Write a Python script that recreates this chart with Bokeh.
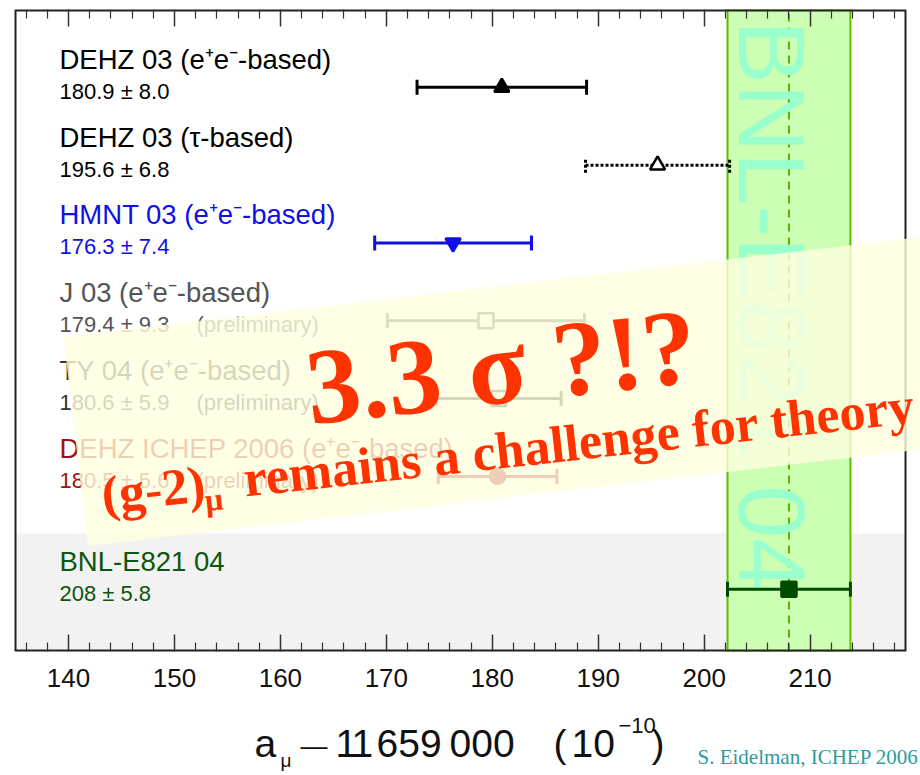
import math
from bokeh.plotting import figure
from bokeh.layouts import column
from bokeh.models import Range1d, LinearAxis, FixedTicker
from bokeh.core.properties import value
from bokeh.embed import file_html
from bokeh.resources import INLINE

# ---------------- data ----------------
names = ["DEHZ 03 (e\u207ae\u207b-based)", "DEHZ 03 (\u03c4-based)", "HMNT 03 (e\u207ae\u207b-based)",
         "J 03 (e\u207ae\u207b-based)", "TY 04 (e\u207ae\u207b-based)",
         "DEHZ ICHEP 2006 (e\u207ae\u207b-based)", "BNL-E821 04"]
values = [180.9, 195.6, 176.3, 179.4, 180.6, 180.5, 208.0]
errors = [8.0, 6.8, 7.4, 9.3, 5.9, 5.6, 5.8]
value_texts = ["180.9 \u00b1 8.0", "195.6 \u00b1 6.8", "176.3 \u00b1 7.4", "179.4 \u00b1 9.3",
               "180.6 \u00b1 5.9", "180.5 \u00b1 5.6", "208 \u00b1 5.8"]
notes = ["", "", "", "(preliminary)", "(preliminary)", "(preliminary)", ""]
markers = ["triangle", "triangle", "inverted_triangle", "square", "square", "circle", "square"]
filled = [True, False, True, False, False, True, True]
dashes = ["solid", "3 2", "solid", "solid", "solid", "solid", "solid"]
colors = ["#000000", "#000000", "#1010e6", "#555555", "#333333", "#a01010", "#0e550e"]
bar_colors = ["#000000", "#000000", "#1010e6", "#555555", "#333333", "#a01010", "#004a00"]
rows = [7.25, 6.25, 5.25, 4.25, 3.25, 2.25, 0.8]
ref_name = "BNL-E821 04"
ref_value = 208.0
ref_error = 5.8
major_ticks = [140, 150, 160, 170, 180, 190, 200, 210]
minor_ticks = [136, 138, 142, 144, 146, 148, 152, 154, 156, 158, 162, 164, 166, 168,
               172, 174, 176, 178, 182, 184, 186, 188, 192, 194, 196, 198, 202, 204,
               206, 208, 212, 214, 216, 218]
banner_line1 = "3.3 \u03c3 ?!?"
banner_line2 = ["(g-2)", "\u03bc", "remains a challenge for theory"]
credit = "S. Eidelman, ICHEP 2006"

# ---------------- layout helpers ----------------
XMIN, XR = 135.0, 219.0            # axis extent (left / right frame line)
YMIN, YMAX = 0.0, 8.25
FX0, FX1, FY0, FY1 = 15.0, 905.0, 9.0, 651.0   # axis box in page pixels
MAIN_H = 701
TOTAL_W, TOTAL_H = 920, 775


def dx(px):
    return XMIN + (px - FX0) / (FX1 - FX0) * (XR - XMIN)


def dy(py):
    return YMAX - (py - FY0) / (FY1 - FY0) * (YMAX - YMIN)


VX0, VX1 = dx(0), dx(TOTAL_W)   # frame spans the whole page width

p = figure(width=TOTAL_W, height=MAIN_H, output_backend="svg", toolbar_location=None,
           x_range=Range1d(VX0, VX1), y_range=Range1d(YMIN, YMAX),
           y_axis_location=None, x_axis_location="below",
           min_border_left=0, min_border_right=0, min_border_top=9,
           min_border_bottom=MAIN_H - 651)
p.grid.visible = False
p.outline_line_color = None
p.background_fill_color = "white"
p.border_fill_color = "white"

ticker = FixedTicker(ticks=major_ticks, minor_ticks=minor_ticks)
ax = p.xaxis[0]
ax.ticker = ticker
ax.major_tick_in = 17
ax.major_tick_out = 0
ax.minor_tick_in = 9
ax.minor_tick_out = 0
ax.major_tick_line_color = "#333333"
ax.minor_tick_line_color = "#333333"
ax.major_tick_line_width = 1.5
ax.minor_tick_line_width = 1.2
ax.axis_line_color = None
ax.major_label_text_font = "Liberation Sans"
ax.major_label_text_font_size = "26px"
ax.major_label_text_color = "#111111"
ax.major_label_standoff = 17

top = LinearAxis(ticker=ticker, major_tick_in=17, major_tick_out=0, minor_tick_in=9,
                 minor_tick_out=0, major_label_text_font_size="1px", major_label_standoff=0,
                 major_label_text_color=None,
                 major_tick_line_color="#333333", minor_tick_line_color="#333333",
                 major_tick_line_width=1.5, minor_tick_line_width=1.2,
                 axis_line_color=None)
p.add_layout(top, "above")

# grey band for the measurement row
p.quad(left=[XMIN], right=[XR], bottom=[YMIN], top=[dy(533)],
       fill_color="#f2f2f2", line_color=None)

# experimental band
p.quad(left=[ref_value - ref_error], right=[ref_value + ref_error], bottom=[YMIN], top=[YMAX],
       fill_color="#ccffb3", line_color="#5cbf00", line_width=2)
p.segment(x0=[ref_value], x1=[ref_value], y0=[YMIN], y1=[YMAX],
          line_color="#55b000", line_width=2, line_dash="8 6")
p.text(x=[dx(771)], y=[dy(20)], text=[ref_name], angle=-math.pi / 2,
       text_font=value("Liberation Sans"), text_font_size="95px", text_color="#99ffcc",
       text_align="left", text_baseline="middle")

# axis box lines
p.segment(x0=[XMIN, XMIN], x1=[XR, XR], y0=[YMIN, YMAX], y1=[YMIN, YMAX],
          line_color="#222222", line_width=4)
p.segment(x0=[XMIN, XR], x1=[XMIN, XR], y0=[YMIN, YMIN], y1=[YMAX, YMAX],
          line_color="#222222", line_width=2)

# error bars
for i in range(len(names)):
    lo, hi = values[i] - errors[i], values[i] + errors[i]
    c = bar_colors[i]
    p.segment(x0=[lo], x1=[hi], y0=[rows[i]], y1=[rows[i]], line_color=c, line_width=3,
              line_dash=dashes[i])
    p.scatter(x=[lo, hi], y=[rows[i], rows[i]], marker="dash", angle=math.pi / 2, size=15,
              line_color=c, line_width=3, line_dash=dashes[i])
    p.scatter(x=[values[i]], y=[rows[i]], marker=markers[i], size=15,
              fill_color=c if filled[i] else "white", line_color=c, line_width=2.5)

# labels
lx = dx(59)
p.text(x=[lx] * len(names), y=[r + 0.36 for r in rows], text=names, text_color=colors,
       text_font=value("Liberation Sans"), text_font_size="27.5px", text_baseline="middle")
p.text(x=[lx] * len(names), y=[r - 0.05 for r in rows], text=value_texts, text_color=colors,
       text_font=value("Liberation Sans"), text_font_size="22px", text_baseline="middle")
ni = [i for i in range(len(notes)) if notes[i]]
p.text(x=[dx(196)] * len(ni), y=[rows[i] - 0.05 for i in ni], text=[notes[i] for i in ni],
       text_color=[colors[i] for i in ni],
       text_font=value("Liberation Sans"), text_font_size="22px", text_baseline="middle")

# banner
tb = math.atan(0.116)
L, H = 980.0, 211.0
tl = (63.0, 336.0)
tr = (tl[0] + L * math.cos(tb), tl[1] - L * math.sin(tb))
bl = (tl[0] + H * math.sin(tb), tl[1] + H * math.cos(tb))
br = (bl[0] + L * math.cos(tb), bl[1] - L * math.sin(tb))
poly = [tl, tr, br, bl]
p.patch(x=[dx(q_[0]) for q_ in poly], y=[dy(q_[1]) for q_ in poly],
        fill_color="#ffffe0", fill_alpha=0.8, line_color=None)

ta = 0.11


def along(x0, y0, d, s=0.0):
    # d along the rotated baseline, s perpendicular (positive = down)
    return (x0 + d * math.cos(ta) + s * math.sin(ta), y0 - d * math.sin(ta) + s * math.cos(ta))


c1 = along(310.0, 424.0, 0.0, -0.34 * 108)
p.text(x=[dx(c1[0])], y=[dy(c1[1])], text=[banner_line1], angle=ta,
       text_font=value("Liberation Serif"), text_font_style="bold", text_font_size="108px",
       text_color="#ff3300", text_align="left", text_baseline="middle")

segs = [(0.0, 0.0, 52.0), (102.0, 10.0, 32.0), (143.0, 0.0, 52.0)]
for txt, (d, s, fs) in zip(banner_line2, segs):
    cx, cy = along(103.0, 512.0, d, s - 0.34 * fs)
    p.text(x=[dx(cx)], y=[dy(cy)], text=[txt], angle=ta,
           text_font=value("Liberation Serif"), text_font_style="bold",
           text_font_size="%gpx" % fs,
           text_color="#ff3300", text_align="left", text_baseline="middle")

# ---------------- lower strip: axis title and credit ----------------
q = figure(width=TOTAL_W, height=TOTAL_H - MAIN_H, output_backend="svg", toolbar_location=None,
           x_range=Range1d(0, TOTAL_W), y_range=Range1d(TOTAL_H, MAIN_H),
           x_axis_location=None, y_axis_location=None, min_border=0)
q.grid.visible = False
q.outline_line_color = None
q.background_fill_color = "white"
q.border_fill_color = "white"
try:
    p.frame_align = False
    q.frame_align = False
except Exception:
    pass

# (text, left x, baseline y, font px)
pieces = [("a", 254, 757, 39), ("\u03bc", 280, 767, 19), ("\u2014", 300, 755, 27),
          ("1", 335, 757, 39), ("1", 351, 757, 39), ("659", 376, 757, 39),
          ("000", 449, 757, 39),
          ("(", 553, 757, 39), ("10", 571, 757, 39),
          ("\u221210", 618, 733, 22), (")", 651, 757, 39)]
q.text(x=[pc[1] for pc in pieces], y=[pc[2] - 0.35 * pc[3] for pc in pieces],
       text=[pc[0] for pc in pieces], text_font_size=["%dpx" % pc[3] for pc in pieces],
       text_font=value("Liberation Sans"), text_color="#111111", text_baseline="middle")
q.text(x=[697], y=[763 - 0.33 * 21], text=[credit], text_font=value("Liberation Serif"),
       text_font_size="21px", text_color="#2a9d9d", text_baseline="middle")

layout = column(p, q, spacing=0)
open("out.html", "w").write(file_html(layout, INLINE))
